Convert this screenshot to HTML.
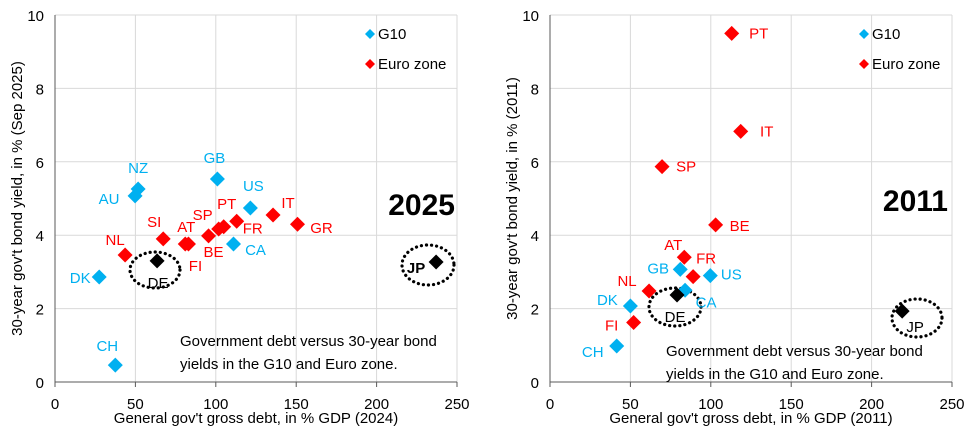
<!DOCTYPE html>
<html><head><meta charset="utf-8"><style>
body{margin:0;background:#fff;width:976px;height:427px;overflow:hidden;font-family:"Liberation Sans",sans-serif}
svg text{font-family:"Liberation Sans",sans-serif}
</style></head><body>
<svg id="s" width="976" height="427" xmlns="http://www.w3.org/2000/svg"></svg>
<script>
const xTicks=[0,50,100,150,200,250];
const yTicks=[0,2,4,6,8,10];
// 2025 panel
const c25=['NZ','AU','GB','US','CA','DK','CH','DE','JP','NL','SI','AT','FI','BE','SP','PT','FR','IT','GR'];
const g25=['g','g','g','g','g','g','g','k','k','e','e','e','e','e','e','e','e','e','e'];
const debt25=[51.7,49.8,101,121.5,111,27.5,37.5,63.5,237,43.6,67.3,81,83,95.5,101.8,104.9,113,135.6,150.8];
const yld25=[5.26,5.07,5.53,4.74,3.76,2.86,0.46,3.3,3.27,3.46,3.9,3.76,3.76,3.98,4.17,4.23,4.38,4.55,4.3];
// 2011 panel
const c11=['PT','IT','SP','BE','AT','FR','NL','FI','GB','US','CA','DK','CH','DE','JP'];
const g11=['e','e','e','e','e','e','e','e','g','g','g','g','g','k','k'];
const debt11=[113,118.6,69.7,103,83.5,89,61.6,52,81,99.7,84,50,41.5,79,219];
const yld11=[9.5,6.83,5.87,4.28,3.4,2.87,2.48,1.62,3.07,2.9,2.5,2.07,0.98,2.37,1.93];

const off25={NZ:[0,-21],AU:[-26,3],GB:[-3,-21],US:[3,-22],CA:[22,6],DK:[-19,1],CH:[-8,-19],DE:[1,22],JP:[-20,6],NL:[-10,-15],SI:[-9,-17],AT:[1,-17],FI:[7,22],BE:[5,16],SP:[-16,-14],PT:[3,-23],FR:[16,7],IT:[15,-12],GR:[24,4]};
const off11={PT:[27,0],IT:[26,0],SP:[24,0],BE:[24,1],AT:[-11,-12],FR:[13,-18],NL:[-22,-10],FI:[-22,3],GB:[-22,-1],US:[21,-1],CA:[21,12],DK:[-23,-6],CH:[-24,6],DE:[-2,22],JP:[13,16]};
const col={g:'#00b0f0',e:'#ff0000',k:'#000000'};
const NS='http://www.w3.org/2000/svg';
const svg=document.getElementById('s');
function mk(tag,attrs,parent){const e=document.createElementNS(NS,tag);for(const k in attrs)e.setAttribute(k,attrs[k]);(parent||svg).appendChild(e);return e;}
function panel(p){
  const g=mk('g',{});
  
  
  const X=v=>p.x0+v*(p.x1-p.x0)/250, Y=v=>p.y0-v*(p.y0-p.y1)/10;
  yTicks.forEach(t=>{
    const l=mk('line',{x1:p.x0,x2:p.x1,y1:Y(t),y2:Y(t),stroke:'#d9d9d9','stroke-width':1},g);
    
    
    const tx=mk('text',{x:p.x0-11,y:Y(t)+6,'text-anchor':'end','font-size':15,fill:'#000'},g);tx.textContent=t;
    
    
  });
  xTicks.forEach(t=>{
    if(t>0){const l=mk('line',{x1:X(t),x2:X(t),y1:p.y1,y2:p.y0,stroke:'#d9d9d9','stroke-width':1},g);
    
    }
    mk('line',{x1:X(t),x2:X(t),y1:p.y0,y2:p.y0+5,stroke:'#595959'},g);
    const tx=mk('text',{x:X(t),y:p.y0+27,'text-anchor':'middle','font-size':15,fill:'#000'},g);tx.textContent=t;
    
    
  });
  mk('line',{x1:p.x0,x2:p.x0,y1:p.y1,y2:p.y0,stroke:'#595959'},g);
  mk('line',{x1:p.x0,x2:p.x1,y1:p.y0,y2:p.y0,stroke:'#595959'},g);
  p.ell.forEach(e=>{const el=mk('ellipse',{cx:e[0],cy:e[1],rx:e[2],ry:e[3],fill:'none',stroke:'#000','stroke-width':3.2,'stroke-dasharray':'0.1 5','stroke-linecap':'round'},g);
    
    });
  p.c.forEach((c,i)=>{
    const px=X(p.d[i]),py=Y(p.y[i]),r=7.5;
    const d=mk('path',{d:`M${px} ${py-r}L${px+r} ${py}L${px} ${py+r}L${px-r} ${py}Z`,fill:col[p.g[i]]},g);
    
    
    const o=p.off[c];
    const t=mk('text',{x:px+o[0],y:py+o[1]+5,'text-anchor':'middle','font-size':15,fill:col[p.g[i]],'font-weight':(c==='JP'&&p.name==='panel-2025')?'bold':'normal'},g);t.textContent=c;
    
    
  });
  [['G10',col.g,34],['Euro zone',col.e,64]].forEach(L=>{
    const lx=p.leg;
    mk('path',{d:`M${lx} ${L[2]-5}L${lx+5} ${L[2]}L${lx} ${L[2]+5}L${lx-5} ${L[2]}Z`,fill:L[1]},g);
    const t=mk('text',{x:lx+8,y:L[2]+5,'font-size':15,fill:'#000'},g);t.textContent=L[0];
    
    
  });
  const yr=mk('text',{x:p.yrx,y:p.yry,'text-anchor':'end','font-size':30,'font-weight':'bold',fill:'#000'},g);yr.textContent=p.year;
  
  
  p.note.forEach((s,i)=>{const t=mk('text',{x:p.nx,y:p.ny+i*23,'font-size':15,fill:'#000'},g);t.textContent=s;
    
    });
  const yt=mk('text',{x:0,y:0,transform:`translate(${p.x0-33},${(p.y0+p.y1)/2}) rotate(-90)`,'text-anchor':'middle','font-size':15,fill:'#000'},g);yt.textContent=p.ytitle;
  
  
  const xt=mk('text',{x:(p.x0+p.x1)/2,y:423,'text-anchor':'middle','font-size':15,fill:'#000'},g);xt.textContent=p.xtitle;
  
  
}
const note=['Government debt versus 30-year bond','yields in the G10 and Euro zone.'];
panel({name:'panel-2025',x0:55,x1:457,y0:382,y1:15,c:c25,g:g25,d:debt25,y:yld25,off:off25,leg:370,year:'2025',yrx:455,yry:215,nx:180,ny:346,note:note,
  ell:[[155,270,25,18],[428,265,26,20]],ytitle:"30-year gov't bond yield, in % (Sep 2025)",xtitle:"General gov't gross debt, in % GDP (2024)"});
panel({name:'panel-2011',x0:550,x1:952,y0:382,y1:15,c:c11,g:g11,d:debt11,y:yld11,off:off11,leg:864,year:'2011',yrx:948,yry:211,nx:666,ny:356,note:note,
  ell:[[675,307,26,19],[917,318,25,19]],ytitle:"30-year gov't bond yield, in % (2011)",xtitle:"General gov't gross debt, in % GDP (2011)"});
</script>
</body></html>
